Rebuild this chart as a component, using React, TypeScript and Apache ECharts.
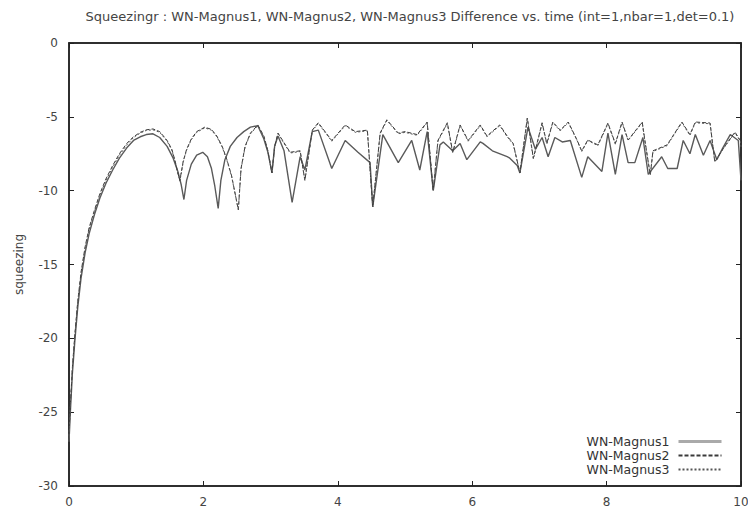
import React, { useEffect, useRef } from "react";
import * as echarts from "echarts";

const titleText =
  "Squeezingr : WN-Magnus1, WN-Magnus2, WN-Magnus3 Difference vs. time (int=1,nbar=1,det=0.1)";
const seriesNames = ["WN-Magnus1", "WN-Magnus2", "WN-Magnus3"];
const xTicks = [0, 2, 4, 6, 8, 10];
const yTicks = [-30, -25, -20, -15, -10, -5, 0];

// WN-Magnus1 (solid) : [time, squeezing]
const magnus1: [number, number][] = [
  [0, -27.0], [0.02, -25.0], [0.05, -22.4], [0.09, -20.0], [0.13, -17.9], [0.18, -15.9],
  [0.24, -14.2], [0.3, -12.9], [0.38, -11.6], [0.46, -10.5], [0.55, -9.5], [0.65, -8.6],
  [0.75, -7.8], [0.86, -7.1], [0.96, -6.6], [1.06, -6.35], [1.15, -6.2], [1.25, -6.15],
  [1.35, -6.4], [1.46, -7.0], [1.55, -7.8], [1.62, -8.7], [1.67, -9.6], [1.71, -10.6],
  [1.75, -9.3], [1.82, -8.2], [1.9, -7.6], [1.99, -7.4], [2.06, -7.7], [2.12, -8.5],
  [2.17, -9.7], [2.22, -11.2], [2.26, -9.3], [2.32, -7.9], [2.4, -7.0], [2.5, -6.4],
  [2.6, -6.0], [2.7, -5.7], [2.81, -5.6], [2.9, -6.5], [2.96, -7.4], [3.02, -8.8],
  [3.06, -7.0], [3.11, -6.3], [3.2, -7.3], [3.32, -10.8], [3.44, -7.7], [3.51, -8.6],
  [3.62, -6.0], [3.71, -5.9], [3.91, -8.5], [4.11, -6.6], [4.3, -7.4], [4.48, -8.1],
  [4.52, -11.1], [4.67, -6.2], [4.9, -8.1], [5.1, -6.6], [5.22, -8.6], [5.33, -6.0],
  [5.42, -10.0], [5.52, -6.9], [5.57, -6.7], [5.71, -7.3], [5.82, -6.8], [5.92, -7.9],
  [6.12, -6.7], [6.16, -6.8], [6.3, -7.3], [6.52, -7.7], [6.56, -7.8], [6.67, -8.3],
  [6.71, -8.8], [6.83, -5.7], [6.94, -7.2], [7.04, -6.4], [7.13, -7.7], [7.23, -6.4],
  [7.34, -6.7], [7.46, -6.6], [7.63, -9.1], [7.72, -7.7], [7.93, -8.7], [8.02, -6.1],
  [8.13, -8.9], [8.23, -6.2], [8.32, -8.1], [8.42, -8.1], [8.54, -6.4], [8.62, -8.9],
  [8.82, -7.7], [8.91, -8.5], [9.05, -8.5], [9.14, -6.6], [9.24, -7.5], [9.32, -6.2],
  [9.44, -7.6], [9.54, -6.6], [9.64, -7.9], [9.73, -7.1], [9.84, -6.2], [9.96, -6.6],
  [10.0, -9.3],
];

// WN-Magnus2 (dashed) : [time, squeezing]
const magnus2: [number, number][] = [
  [0, -26.5], [0.02, -24.5], [0.05, -22.0], [0.09, -19.6], [0.13, -17.5], [0.18, -15.5],
  [0.24, -13.8], [0.3, -12.5], [0.38, -11.3], [0.46, -10.2], [0.55, -9.2], [0.65, -8.3],
  [0.75, -7.5], [0.86, -6.8], [0.96, -6.35], [1.06, -6.05], [1.15, -5.88], [1.25, -5.82],
  [1.35, -6.0], [1.46, -6.6], [1.53, -7.2], [1.58, -8.0], [1.62, -8.8], [1.65, -9.3],
  [1.7, -8.0], [1.75, -7.2], [1.82, -6.5], [1.9, -6.0], [2.02, -5.7], [2.12, -5.85],
  [2.2, -6.3], [2.28, -7.0], [2.35, -7.9], [2.42, -9.0], [2.52, -11.3], [2.56, -8.5],
  [2.62, -7.0], [2.7, -6.1], [2.81, -5.55], [2.9, -6.3], [2.96, -7.3], [3.02, -8.8],
  [3.06, -7.0], [3.11, -6.1], [3.29, -7.4], [3.44, -7.3], [3.51, -9.3], [3.62, -5.9],
  [3.71, -5.4], [3.91, -6.6], [4.11, -5.55], [4.26, -6.0], [4.44, -5.9], [4.52, -11.1],
  [4.63, -6.1], [4.73, -5.2], [4.9, -6.1], [5.0, -6.0], [5.18, -6.2], [5.33, -5.35],
  [5.42, -10.0], [5.49, -6.6], [5.63, -5.4], [5.71, -7.4], [5.82, -5.55], [5.94, -6.6],
  [6.12, -5.55], [6.22, -6.3], [6.41, -5.55], [6.52, -6.3], [6.61, -6.8], [6.71, -8.8],
  [6.82, -5.08], [6.91, -7.8], [7.04, -5.4], [7.11, -6.8], [7.2, -5.35], [7.31, -5.9],
  [7.43, -5.35], [7.56, -6.57], [7.63, -7.31], [7.72, -6.57], [7.87, -6.9], [8.02, -5.42],
  [8.13, -6.8], [8.23, -5.35], [8.32, -6.57], [8.53, -5.35], [8.57, -6.6], [8.65, -8.94],
  [8.69, -7.3], [8.9, -6.9], [9.12, -5.35], [9.24, -6.2], [9.32, -5.35], [9.54, -5.42],
  [9.61, -8.06], [9.73, -7.18], [9.91, -6.03], [9.99, -6.6], [10.0, -7.0],
];

// WN-Magnus3 (dotted) : [time, squeezing]
const magnus3: [number, number][] = [
  [0, -26.6], [0.02, -24.6], [0.05, -22.1], [0.09, -19.7], [0.13, -17.6], [0.18, -15.6],
  [0.24, -13.9], [0.3, -12.6], [0.38, -11.4], [0.46, -10.3], [0.55, -9.3], [0.65, -8.4],
  [0.75, -7.6], [0.86, -6.9], [0.96, -6.4], [1.06, -6.1], [1.15, -5.92], [1.25, -5.88],
  [1.35, -6.05], [1.46, -6.65], [1.53, -7.25], [1.58, -8.05], [1.62, -8.85], [1.65, -9.35],
  [1.7, -8.05], [1.75, -7.25], [1.82, -6.55], [1.9, -6.05], [2.02, -5.75], [2.12, -5.9],
  [2.2, -6.35], [2.28, -7.05], [2.35, -7.95], [2.42, -9.05], [2.52, -11.3], [2.56, -8.55],
  [2.62, -7.05], [2.7, -6.15], [2.81, -5.6], [2.9, -6.35], [2.96, -7.35], [3.02, -8.8],
  [3.06, -7.05], [3.11, -6.15], [3.29, -7.45], [3.44, -7.35], [3.51, -9.3], [3.62, -5.95],
  [3.71, -5.45], [3.91, -6.65], [4.11, -5.6], [4.26, -6.05], [4.44, -5.95], [4.52, -11.1],
  [4.63, -6.15], [4.73, -5.25], [4.9, -6.15], [5.0, -6.05], [5.18, -6.25], [5.33, -5.4],
  [5.42, -10.0], [5.49, -6.65], [5.63, -5.45], [5.71, -7.45], [5.82, -5.6], [5.94, -6.65],
  [6.12, -5.6], [6.22, -6.35], [6.41, -5.6], [6.52, -6.35], [6.61, -6.85], [6.71, -8.8],
  [6.82, -5.12], [6.91, -7.85], [7.04, -5.45], [7.11, -6.85], [7.2, -5.4], [7.31, -5.95],
  [7.43, -5.4], [7.56, -6.6], [7.63, -7.35], [7.72, -6.6], [7.87, -6.95], [8.02, -5.47],
  [8.13, -6.85], [8.23, -5.4], [8.32, -6.6], [8.53, -5.4], [8.57, -6.65], [8.65, -8.94],
  [8.69, -7.35], [8.9, -6.95], [9.12, -5.4], [9.24, -6.25], [9.32, -5.4], [9.54, -5.47],
  [9.61, -8.06], [9.73, -7.2], [9.91, -6.08], [9.99, -6.65], [10.0, -7.05],
];

const FONT = "'DejaVu Sans', 'Liberation Sans', sans-serif";

export default function App() {
  const ref = useRef<HTMLDivElement>(null);
  useEffect(() => {
    if (!ref.current) return;
    const chart = echarts.init(ref.current, undefined, { renderer: "svg" });
    const lbl = { color: "#444", fontSize: 12, fontFamily: FONT };
    const frameLine = { show: true, onZero: false, lineStyle: { color: "#222", width: 1.5 } };
    const inTick = { show: true, inside: true, length: 5, lineStyle: { color: "#222", width: 1 } };
    chart.setOption({
      animation: false,
      title: {
        text: titleText,
        left: 405,
        top: 5,
        textAlign: "center",
        textStyle: { color: "#444", fontSize: 13, fontWeight: "normal", fontFamily: FONT },
      },
      legend: {
        data: [
          { name: seriesNames[0], lineStyle: { color: "#aaa", width: 3, type: "solid" } },
          { name: seriesNames[1] },
          { name: seriesNames[2] },
        ],
        orient: "vertical",
        align: "right",
        right: 28,
        top: 430,
        itemWidth: 43,
        itemHeight: 10,
        itemGap: 1,
        itemStyle: { opacity: 0 },
        textStyle: { color: "#333", fontSize: 12.5, lineHeight: 13, fontFamily: FONT, padding: [0, 4, 0, 0] },
      },
      grid: { show: true, borderColor: "#222", borderWidth: 1.5, left: 69, right: 15, top: 43, bottom: 34 },
      xAxis: [
        {
          type: "value",
          min: xTicks[0],
          max: xTicks[xTicks.length - 1],
          interval: 2,
          axisLine: frameLine,
          axisTick: inTick,
          axisLabel: { ...lbl, margin: 10 },
          splitLine: { show: false },
        },
        {
          type: "value",
          position: "top",
          min: xTicks[0],
          max: xTicks[xTicks.length - 1],
          interval: 2,
          axisLine: { ...frameLine },
          axisTick: { ...inTick },
          axisLabel: { show: false },
          splitLine: { show: false },
        },
      ],
      yAxis: [
        {
          type: "value",
          min: yTicks[0],
          max: yTicks[yTicks.length - 1],
          interval: 5,
          name: "squeezing",
          nameLocation: "middle",
          nameGap: 44,
          nameRotate: 90,
          nameTextStyle: { color: "#444", fontSize: 12, fontFamily: FONT },
          axisLine: frameLine,
          axisTick: inTick,
          axisLabel: { ...lbl, margin: 11 },
          splitLine: { show: false },
        },
        {
          type: "value",
          position: "right",
          min: yTicks[0],
          max: yTicks[yTicks.length - 1],
          interval: 5,
          axisLine: { ...frameLine },
          axisTick: { ...inTick },
          axisLabel: { show: false },
          splitLine: { show: false },
        },
      ],
      series: [
        {
          name: seriesNames[0],
          type: "line",
          data: magnus1,
          showSymbol: false,
          symbol: "none",
          lineStyle: { color: "#5a5a5a", width: 1.4, type: "solid" },
          itemStyle: { color: "#aaa" },
        },
        {
          name: seriesNames[1],
          type: "line",
          data: magnus2,
          showSymbol: false,
          symbol: "none",
          lineStyle: { color: "#3a3a3a", width: 1, type: [4, 2] },
          itemStyle: { color: "#444" },
        },
        {
          name: seriesNames[2],
          type: "line",
          data: magnus3,
          showSymbol: false,
          symbol: "none",
          lineStyle: { color: "#555", width: 1, type: [2, 2] },
          itemStyle: { color: "#666" },
        },
      ],
    });
    return () => chart.dispose();
  }, []);
  return <div ref={ref} style={{ width: 756, height: 520, margin: -8 }} />;
}
